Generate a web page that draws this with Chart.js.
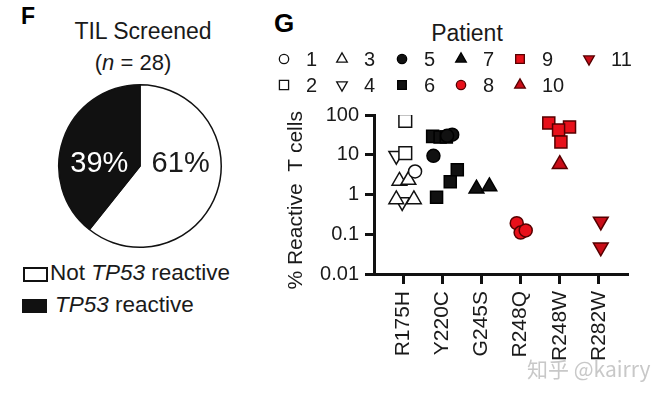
<!DOCTYPE html>
<html>
<head>
<meta charset="utf-8">
<script src="https://cdn.jsdelivr.net/npm/chart.js@4.4.0/dist/chart.umd.min.js"></script>
<style>
  body { margin: 0; background: #fff; font-family: "Liberation Sans", Arial, sans-serif; color: #1a1a1a; }
  #wrap { position: relative; width: 662px; height: 401px; overflow: hidden; }
  .t { position: absolute; white-space: nowrap; }
  .c { transform: translateX(-50%); }
  #pie_box { position: absolute; left: 55px; top: 81px; width: 170px; height: 170px; }
  #scatter_box { position: absolute; left: 270px; top: 0; width: 392px; height: 401px; }
  .box { position: absolute; box-sizing: border-box; }
</style>
</head>
<body>
<div id="wrap">
  <div class="t" style="left:21px; top:5px; font-size:23px; line-height:23px; font-weight:bold; color:#000;">F</div>
  <div class="t c" style="left:143px; top:20px; font-size:23px; line-height:23px;">TIL Screened</div>
  <div class="t c" style="left:133px; top:52px; font-size:22px; line-height:22px;">(<i>n</i> = 28)</div>

  <div id="pie_box"><canvas id="pie_chart" width="170" height="170"></canvas></div>

  <div class="box" style="left:23px; top:267px; width:25px; height:15px; border:2px solid #111;"></div>
  <div class="t" style="left:50px; top:262px; font-size:22.5px; line-height:22px;">Not <i>TP53</i> reactive</div>
  <div class="box" style="left:22px; top:299px; width:25px; height:14px; background:#111;"></div>
  <div class="t" style="left:55px; top:294px; font-size:22.5px; line-height:22px;"><i>TP53</i> reactive</div>

  <div class="t" style="left:274px; top:10px; font-size:26px; line-height:26px; font-weight:bold; color:#000;">G</div>
  <div class="t c" style="left:467px; top:22px; font-size:23px; line-height:23px;">Patient</div>

  <div id="scatter_box"><canvas id="scatter_chart" width="392" height="401"></canvas></div>

  <div class="t" style="left:527px; top:358px; font-size:21px; line-height:21px; color:rgba(190,190,190,0.85); font-family:'Noto Sans CJK SC', 'Liberation Sans', sans-serif;">知乎 @kairry</div>
</div>

<script>
// pie: TIL screened
var pieLabels = ["Not TP53 reactive", "TP53 reactive"];
var pieCounts = [17, 11];

// scatter: % reactive T cells by mutation, per patient
var mutations = ["R175H", "Y220C", "G245S", "R248Q", "R248W", "R282W"];
var yTicks = [0.01, 0.1, 1, 10, 100];
var yTickLabels = ["0.01", "0.1", "1", "10", "100"];
var patientIds = ["1", "2", "3", "4", "5", "6", "7", "8", "9", "10", "11"];
var patientMutation = [0, 0, 0, 0, 1, 1, 2, 3, 4, 4, 5];
// horizontal spread of points inside a mutation column
var patientJitter = [
   [0.3],
   [0.05, 0.05],
   [-0.1, 0.13, -0.18, 0.27],
   [-0.18, -0.03],
   [-0.23, 0.25, 0.12],
   [-0.25, -0.06, 0.1, 0.38, 0.2, -0.15],
   [-0.13, 0.2],
   [-0.1, 0, 0.13],
   [-0.28, 0.25, -0.03, 0.03],
   [0],
   [0.05, 0.05]
];
var patientValues = [
   [3.8],
   [71, 11],
   [2.2, 2.3, 0.75, 0.75],
   [9.5, 0.65],
   [9.4, 32, 30],
   [29, 28, 28, 4.2, 2.1, 0.85],
   [1.4, 1.6],
   [0.19, 0.11, 0.125],
   [63, 50, 42, 21],
   [5.8],
   [0.21, 0.047]
];

var FONT = "'Liberation Sans', Arial, sans-serif";
var INK = "#1a1a1a";
var RED = "#e8101a", RED_DARK = "#c90d18", RED_EDGE = "#560000";

var markers = [
   { style: "circle", radius: 6.5, fill: "#fff", edge: "#111", rot: 0 },
   { style: "rect", radius: 9, fill: "#fff", edge: "#111", rot: 0 },
   { style: "triangle", radius: 8.5, fill: "#fff", edge: "#111", rot: 0 },
   { style: "triangle", radius: 8.5, fill: "#fff", edge: "#111", rot: 180 },
   { style: "circle", radius: 6.5, fill: "#111", edge: "#000", rot: 0 },
   { style: "rect", radius: 8.5, fill: "#111", edge: "#000", rot: 0 },
   { style: "triangle", radius: 8.5, fill: "#111", edge: "#000", rot: 0 },
   { style: "circle", radius: 6.5, fill: RED, edge: RED_EDGE, rot: 0 },
   { style: "rect", radius: 8.5, fill: RED, edge: RED_EDGE, rot: 0 },
   { style: "triangle", radius: 8.5, fill: RED_DARK, edge: RED_EDGE, rot: 0 },
   { style: "triangle", radius: 8.5, fill: RED_DARK, edge: RED_EDGE, rot: 180 }
];

// legend grid, 2 rows (odd / even patients)
var legendCols = [284, 342, 402, 461, 520, 589];
var legendRows = [59, 85];

var pieLabelPlugin = {
   id: "pieLabels",
   afterDatasetsDraw: function (chart) {
      var ctx = chart.ctx;
      var total = pieCounts.reduce(function (a, b) { return a + b; });
      var arcs = chart.getDatasetMeta(0).data;
      ctx.save();
      ctx.font = "29px " + FONT;
      ctx.textAlign = "center";
      ctx.textBaseline = "middle";
      arcs.forEach(function (arc, i) {
         var p = arc.getProps(["x", "y", "startAngle", "endAngle", "outerRadius"], true);
         var mid = (p.startAngle + p.endAngle) / 2;
         var tx = p.x + Math.cos(mid) * 0.53 * p.outerRadius;
         ctx.fillStyle = i == 1 ? "#fff" : INK;
         ctx.fillText(Math.round(pieCounts[i] / total * 100) + "%", tx, p.y - 2);
      });
      ctx.restore();
   }
};

new Chart(document.getElementById("pie_chart"), {
   type: "pie",
   data: {
      labels: pieLabels,
      datasets: [{
         data: pieCounts,
         backgroundColor: ["#fff", "#111"],
         borderColor: "#111",
         borderWidth: 1.5
      }]
   },
   options: {
      responsive: false,
      animation: false,
      layout: { padding: 3 },
      plugins: { legend: { display: false }, tooltip: { enabled: false } }
   },
   plugins: [pieLabelPlugin]
});

var patientLegendPlugin = {
   id: "patientLegend",
   afterDraw: function (chart) {
      var ctx = chart.ctx;
      var left = 270;
      ctx.save();
      patientIds.forEach(function (id, i) {
         var m = markers[i];
         var x = legendCols[Math.floor(i / 2)] - left;
         var y = legendRows[i % 2];
         ctx.fillStyle = m.fill;
         ctx.strokeStyle = m.edge;
         ctx.lineWidth = 1.3;
         Chart.helpers.drawPoint(ctx, {
            pointStyle: m.style,
            radius: m.radius * 0.72,
            rotation: m.rot,
            borderWidth: 1.3
         }, x, y);
         ctx.fillStyle = INK;
         ctx.font = "20px " + FONT;
         ctx.textAlign = "left";
         ctx.textBaseline = "middle";
         ctx.fillText(id, x + 22, y + 1);
      });
      ctx.restore();
   }
};

var datasets = patientIds.map(function (id, i) {
   var m = markers[i];
   var pts = patientValues[i].map(function (v, k) {
      return { x: patientMutation[i] + patientJitter[i][k], y: v };
   });
   return {
      label: id,
      data: pts,
      showLine: false,
      pointStyle: m.style,
      pointRadius: m.radius,
      pointRotation: m.rot,
      pointBackgroundColor: m.fill,
      pointBorderColor: m.edge,
      pointBorderWidth: 1.5
   };
});

new Chart(document.getElementById("scatter_chart"), {
   type: "scatter",
   data: { datasets: datasets },
   options: {
      responsive: false,
      animation: false,
      layout: { padding: { top: 115, right: 35, left: 0, bottom: 0 } },
      plugins: { legend: { display: false }, tooltip: { enabled: false } },
      scales: {
         x: {
            type: "linear",
            min: -0.75,
            max: 5.72,
            afterBuildTicks: function (scale) {
               scale.ticks = mutations.map(function (m, i) { return { value: i }; });
            },
            afterFit: function (scale) { scale.height = 127; },
            grid: { drawOnChartArea: false, drawTicks: true, tickLength: 10, lineWidth: 3, color: "#111" },
            border: { display: true, width: 3, color: "#111" },
            ticks: {
               autoSkip: false,
               minRotation: 90,
               maxRotation: 90,
               padding: 7,
               color: INK,
               font: { family: FONT, size: 21 },
               callback: function (v) { return mutations[v]; }
            }
         },
         y: {
            type: "logarithmic",
            min: yTicks[0],
            max: yTicks[yTicks.length - 1],
            afterBuildTicks: function (scale) {
               scale.ticks = yTicks.map(function (v) { return { value: v }; });
            },
            afterFit: function (scale) { scale.width = 104; },
            grid: { drawOnChartArea: false, drawTicks: true, tickLength: 9, lineWidth: 3, color: "#111" },
            border: { display: true, width: 3, color: "#111" },
            ticks: {
               padding: 6,
               color: INK,
               font: { family: FONT, size: 20 },
               callback: function (v, index) { return yTickLabels[index]; }
            },
            title: {
               display: true,
               // trailing spaces nudge the rotated title down to match the figure
               text: "% Reactive  T cells  ",
               color: INK,
               font: { family: FONT, size: 21 },
               padding: { top: 14, bottom: 0 }
            }
         }
      }
   },
   plugins: [patientLegendPlugin]
});
</script>
</body>
</html>
